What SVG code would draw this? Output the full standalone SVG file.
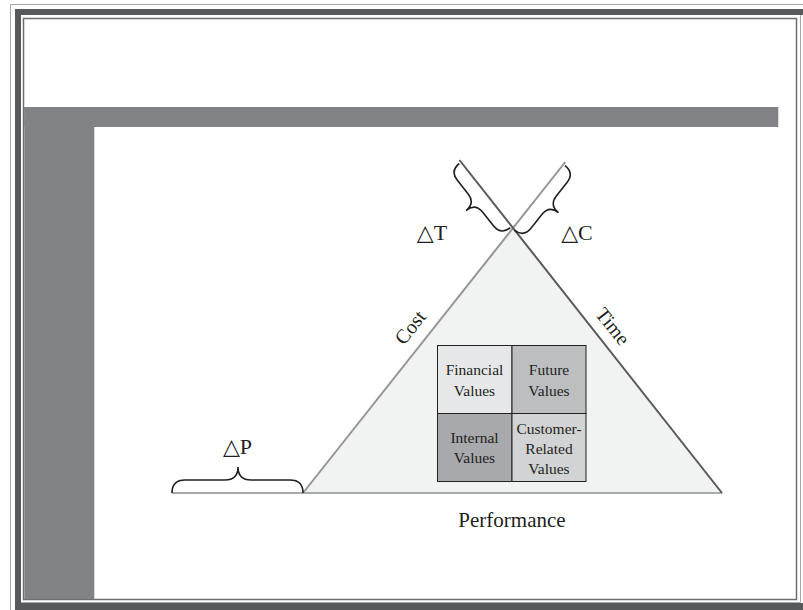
<svg xmlns="http://www.w3.org/2000/svg" width="803" height="610" viewBox="0 0 803 610">
<style>
text{font-family:"Liberation Serif","DejaVu Serif",serif;fill:#231f20}
.q{font-size:15.5px;text-anchor:middle}
.lab{font-size:20px;text-anchor:middle}
.perf{font-size:21px;text-anchor:middle}
.dl{font-size:22px;text-anchor:middle}
.brace{fill:none;stroke:#231f20;stroke-width:1.6}
.cell{stroke:#231f20;stroke-width:1}
</style>
<defs>
<path id="vbrace" d="M0,0 Q-12,0 -12,12 L-12,29 Q-12,41 -24,41 Q-12,41 -12,53 L-12,70 Q-12,82 0,82"/>
</defs>
<rect width="803" height="610" fill="#fff"/>
<g id="frame">
<path d="M10.5,610 V4.5 H803" fill="none" stroke="#a7a9ac" stroke-width="1"/>
<rect x="15" y="9" width="788" height="601" fill="#58595b"/>
<rect x="21" y="15" width="782" height="588" fill="#fff"/>
<path d="M800.5,15 V602.5 H21" fill="none" stroke="#a7a9ac" stroke-width="1"/>
<rect x="23.5" y="18.5" width="773" height="581" fill="#fff" stroke="#6d6e71" stroke-width="1.5"/>
<rect x="24.3" y="107" width="754" height="20" fill="#808285"/>
<rect x="24.3" y="107" width="70" height="492" fill="#808285"/>
</g>
<g id="triangle">
<polygon points="303,493 513,228 722,493" fill="#f1f2f2"/>
</g>
<g id="connectors">
<line x1="172" y1="493" x2="722" y2="493" stroke="#a7a9ac" stroke-width="2"/>
<line x1="303" y1="493" x2="565.3" y2="162" stroke="#939598" stroke-width="2"/>
<line x1="459.4" y1="160" x2="722" y2="493" stroke="#58595b" stroke-width="2"/>
</g>
<g id="labels">
<text class="lab" transform="translate(415.5,331.5) rotate(-51.6)">Cost</text>
<text class="lab" transform="translate(607.5,330.5) rotate(51.6)">Time</text>
<text class="perf" x="512" y="527">Performance</text>
</g>
<g id="deltaP">
<path class="brace" d="M172,493 Q172,480 185,480 L225,480 Q238,480 238,467 Q238,480 251,480 L290,480 Q303,480 303,493"/>
<text class="dl" x="237.5" y="454">△P</text>
</g>
<g id="deltaT">
<use href="#vbrace" class="brace" transform="translate(459.3,163.5) rotate(-38.5)"/>
<text class="dl" x="432" y="240">△T</text>
</g>
<g id="deltaC">
<use href="#vbrace" class="brace" transform="translate(565,165.6) rotate(38.2) scale(-1,1)"/>
<text class="dl" x="577" y="240">△C</text>
</g>
<g id="financial">
<rect class="cell" x="437.5" y="345.5" width="74.5" height="68" fill="#e6e7e8"/>
<text class="q" x="474.5" y="375">Financial</text>
<text class="q" x="474.5" y="396">Values</text>
</g>
<g id="future">
<rect class="cell" x="512" y="345.5" width="74" height="68" fill="#bcbec0"/>
<text class="q" x="549" y="375">Future</text>
<text class="q" x="549" y="396">Values</text>
</g>
<g id="internal">
<rect class="cell" x="437.5" y="413.5" width="74.5" height="68" fill="#a7a9ac"/>
<text class="q" x="474.5" y="443">Internal</text>
<text class="q" x="474.5" y="463">Values</text>
</g>
<g id="customer">
<rect class="cell" x="512" y="413.5" width="74" height="68" fill="#d1d3d4"/>
<text class="q" x="549" y="434">Customer-</text>
<text class="q" x="549" y="454">Related</text>
<text class="q" x="549" y="474">Values</text>
</g>
</svg>
